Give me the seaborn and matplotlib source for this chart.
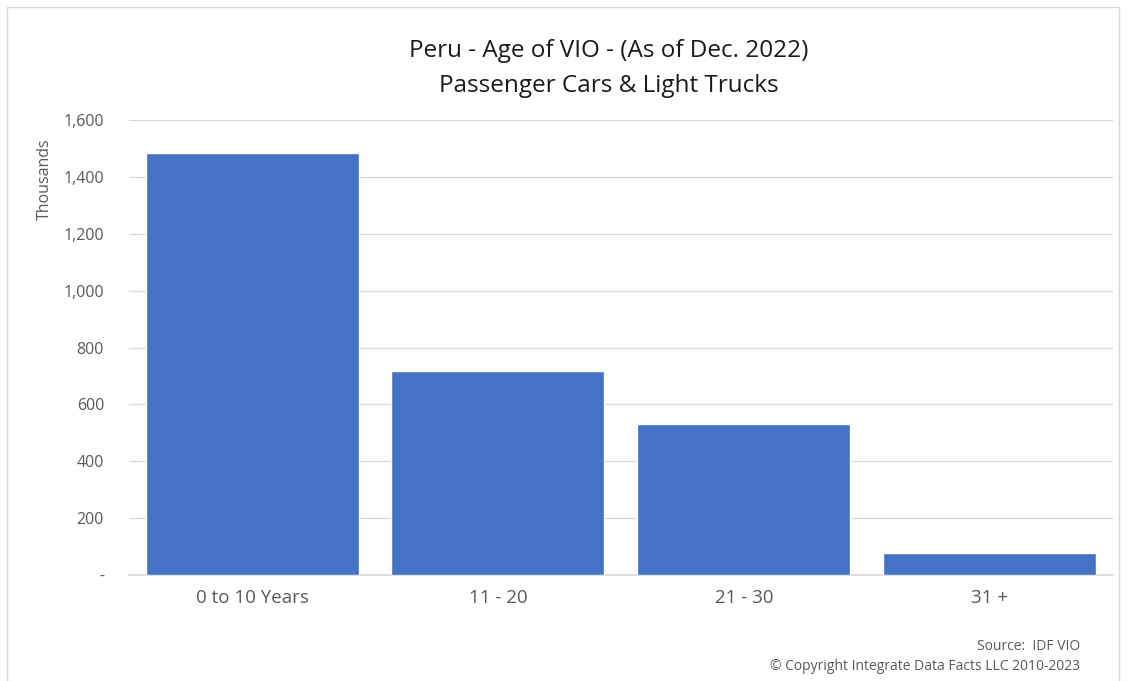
import matplotlib
matplotlib.use("Agg")
import matplotlib.pyplot as plt
import pandas as pd
import seaborn as sns
from matplotlib.patches import Rectangle
from matplotlib.ticker import FuncFormatter

# Data (thousands of vehicles)
age_groups = ["0 to 10 Years", "11 - 20", "21 - 30", "31 +"]
vio_thousands = [1484, 717, 531, 77]
y_ticks = [0, 200, 400, 600, 800, 1000, 1200, 1400, 1600]

df = pd.DataFrame({"age": age_groups, "vio": vio_thousands})

sns.set_theme(style="white")
plt.rcParams["font.family"] = ["Open Sans", "DejaVu Sans"]

fig = plt.figure(figsize=(11.27, 6.81), dpi=100)
ax = fig.add_axes([0.1145, 0.1557, 0.873, 0.668])

sns.barplot(data=df, x="age", y="vio", color="#4472C4", saturation=1,
            width=0.866, ax=ax, zorder=3)

ax.set_xlim(-0.5, len(age_groups) - 0.5)
ax.set_ylim(0, 1600)
ax.set_yticks(y_ticks)
ax.yaxis.set_major_formatter(FuncFormatter(lambda v, _: "-" if v == 0 else f"{v:,.0f}"))
ax.grid(axis="y", color="#D9D9D9", linewidth=0.9, zorder=0)
for s in ["top", "right", "left"]:
    ax.spines[s].set_visible(False)
ax.spines["bottom"].set_color("#D9D9D9")
ax.tick_params(axis="y", labelsize=11.5, colors="#595959", length=0, pad=18)
ax.tick_params(axis="x", labelsize=13.5, colors="#595959", length=0, pad=10)
ax.set_xlabel("")
ax.set_ylabel("Thousands", fontsize=11.5, color="#595959")
ax.yaxis.set_label_coords(-0.077, 0.87)

fig.text(0.54, 0.925, "Peru - Age of VIO - (As of Dec. 2022)", ha="center",
         va="center", fontsize=17.5, color="#1a1a1a")
fig.text(0.54, 0.873, "Passenger Cars & Light Trucks", ha="center",
         va="center", fontsize=17.5, color="#1a1a1a")

fig.text(0.958, 0.05, "Source:  IDF VIO", ha="right", va="center",
         fontsize=10, color="#595959")
fig.text(0.958, 0.022, "\u00a9 Copyright Integrate Data Facts LLC 2010-2023",
         ha="right", va="center", fontsize=10, color="#595959")

fig.patches.append(Rectangle((0.006, -0.01), 0.987, 1.0, transform=fig.transFigure,
                             fill=False, edgecolor="#D9D9D9", linewidth=1))

fig.savefig("out.png", dpi=100)
